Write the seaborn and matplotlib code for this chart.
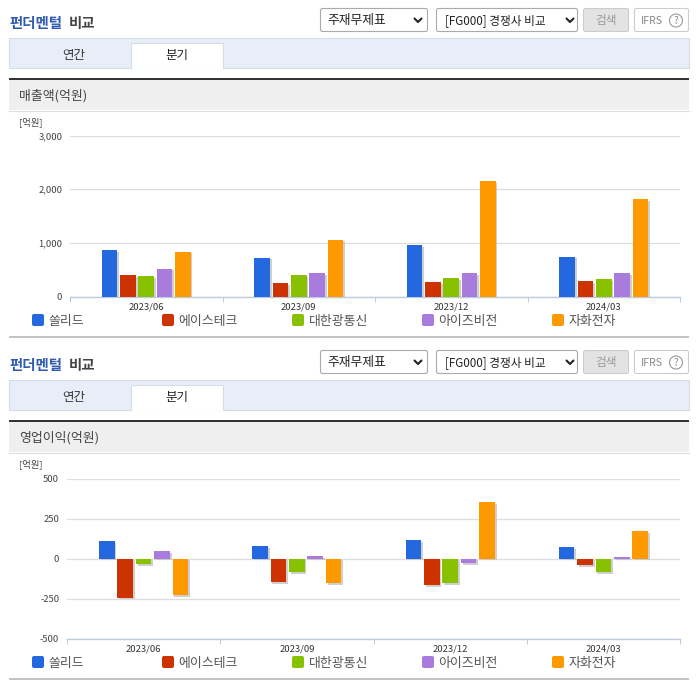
import pandas as pd
import seaborn as sns
import matplotlib.pyplot as plt
import matplotlib.patheffects as pe
from matplotlib.patches import Rectangle, FancyBboxPatch, Circle

# chart data
quarters = ['2023/06', '2023/09', '2023/12', '2024/03']
companies = ['쏠리드', '에이스테크', '대한광통신', '아이즈비전', '자화전자']
colors = ['#2368DF', '#CC3300', '#88C100', '#A87BDC', '#FF9900']

sales_solid = [860, 725, 960, 740]
sales_ace = [400, 250, 270, 290]
sales_daehan = [385, 400, 345, 325]
sales_eyes = [520, 440, 440, 440]
sales_jahwa = [835, 1060, 2150, 1815]

profit_solid = [108, 77, 114, 70]
profit_ace = [-244, -148, -167, -42]
profit_daehan = [-36, -86, -154, -86]
profit_eyes = [46, 14, -31, 8]
profit_jahwa = [-229, -154, 352, 171]

sales_ticks = [0, 1000, 2000, 3000]
sales_labels = ['0', '1,000', '2,000', '3,000']
profit_ticks = [-500, -250, 0, 250, 500]
profit_labels = ['-500', '-250', '0', '250', '500']

W, H = 696, 684
TEXT = '#555555'

sns.set_theme(style='white')
plt.rcParams['font.family'] = ['Noto Sans CJK KR', 'DejaVu Sans']


def make_frame(series):
    rows = []
    for name, values in zip(companies, series):
        for q, v in zip(quarters, values):
            rows.append({'quarter': q, 'company': name, 'value': v})
    return pd.DataFrame(rows)


def draw_chrome(bg, dy, section):
    """Page furniture around one chart, drawn in pixel coordinates"""
    bg.text(9.5, 24 + dy, '펀더멘털', color='#2F5BB0', fontsize=10.4, fontweight='bold', va='center')
    bg.text(69, 24 + dy, '비교', color='#444444', fontsize=10.4, fontweight='bold', va='center')

    # select boxes and buttons
    for x, w, fc, ec in [(320, 108, 'white', '#AAAAAA'), (436, 142, 'white', '#AAAAAA'),
                         (583, 46, '#e3e3e3', '#cccccc'), (634, 55, 'white', '#cccccc')]:
        bg.add_patch(FancyBboxPatch((x + 2.5, 10.5 + dy), w - 5, 19, boxstyle='round,pad=2',
                                    fc=fc, ec=ec, lw=0.8))
    bg.text(327.5, 20.5 + dy, '주재무제표', color='#222222', fontsize=9.2, va='center')
    bg.text(445, 20.5 + dy, '[FG000] 경쟁사 비교', color='#222222', fontsize=8.4, va='center')
    bg.text(606, 20.5 + dy, '검색', color='#999999', fontsize=8.4, ha='center', va='center')
    bg.text(641, 20.5 + dy, 'IFRS', color='#888888', fontsize=7.6, va='center')
    bg.add_patch(Circle((676, 20.5 + dy), 6.5, fc='white', ec='#999999', lw=0.8))
    bg.text(676, 20.5 + dy, '?', color='#888888', fontsize=7, ha='center', va='center')
    for x in [418, 570]:
        bg.plot([x - 3.5, x, x + 3.5], [18.5 + dy, 22 + dy, 18.5 + dy], color='#222222', lw=1.5)

    # tab bar
    bg.add_patch(Rectangle((9, 38 + dy), 679.5, 29.5, fc='#E8EEF8', ec='#D5DCE8', lw=0.8))
    bg.add_patch(Rectangle((131, 43 + dy), 91.5, 25, fc='white', ec='#D5DCE8', lw=0.8))
    bg.plot([131.5, 222], [68 + dy, 68 + dy], color='white', lw=1)
    bg.text(74, 55 + dy, '연간', color='#333333', fontsize=9, ha='center', va='center')
    bg.text(177, 55.5 + dy, '분기', color='#222222', fontsize=9, ha='center', va='center')

    # section band
    bg.add_patch(Rectangle((9, 80 + dy), 680, 30, fc='#EFEFEF', ec='none'))
    bg.add_patch(Rectangle((9, 78 + dy), 680, 2, fc='#333333', ec='none'))
    bg.plot([9, 689], [110.5 + dy, 110.5 + dy], color='#DDDDDD', lw=0.8)
    bg.text(19, 96 + dy, section, color='#444444', fontsize=9.3, va='center')
    bg.text(19, 122.5 + dy, '[억원]', color='#444444', fontsize=6.8, va='center')

    # legend row
    for i, (name, col) in enumerate(zip(companies, colors)):
        x = 32 + 130 * i
        bg.add_patch(FancyBboxPatch((x + 2, 316 + dy), 8, 8, boxstyle='round,pad=2',
                                    fc=col, ec='none'))
        bg.text(x + 16.5, 321 + dy, name, color=TEXT, fontsize=9.3, va='center')

    bg.add_patch(Rectangle((9, 336 + dy), 680, 2, fc='#C4C4C4', ec='none'))


def draw_chart(fig, box, series, ticks, labels):
    x0, y0, x1, y1 = box
    ax = fig.add_axes([x0 / W, 1 - y1 / H, (x1 - x0) / W, (y1 - y0) / H])
    ax.patch.set_alpha(0)
    sns.barplot(data=make_frame(series), x='quarter', y='value', hue='company',
                order=quarters, hue_order=companies, palette=colors,
                width=0.6, gap=0.15, saturation=1, linewidth=0, legend=False, ax=ax)
    for bar in ax.patches:
        bar.set_path_effects([pe.SimplePatchShadow(offset=(1.3, -1.2), shadow_rgbFace='#C4C4C4',
                                                   alpha=0.8), pe.Normal()])
        bar.set_zorder(3)

    ax.set_xlim(-0.5, 3.5)
    ax.set_ylim(ticks[0], ticks[-1])
    ax.set_yticks(ticks)
    ax.set_yticklabels(labels)
    ax.set_xlabel('')
    ax.set_ylabel('')
    ax.grid(axis='y', color='#DADDE2', lw=0.9)
    ax.set_axisbelow(True)
    sns.despine(ax=ax, left=True)
    ax.spines['bottom'].set_color('#BCCBDD')
    ax.spines['bottom'].set_linewidth(1)
    ax.set_xticks([-0.5, 0.5, 1.5, 2.5, 3.5], minor=True)
    ax.tick_params(axis='x', which='minor', length=3.5, width=0.7, color='#BCCBDD', bottom=True)
    ax.tick_params(axis='x', which='major', length=0, pad=4.2, labelsize=6.8, labelcolor='#333333')
    ax.tick_params(axis='y', length=0, pad=5.6, labelsize=6.8, labelcolor='#444444')
    return ax


def main():
    fig = plt.figure(figsize=(W / 100, H / 100), dpi=100, facecolor='white')

    bg = fig.add_axes([0, 0, 1, 1], zorder=-1)
    bg.set_xlim(0, W)
    bg.set_ylim(H, 0)
    bg.axis('off')

    draw_chrome(bg, 0, '매출액(억원)')
    draw_chrome(bg, 342, '영업이익(억원)')

    draw_chart(fig, (70, 135.5, 680, 296.5),
               [sales_solid, sales_ace, sales_daehan, sales_eyes, sales_jahwa],
               sales_ticks, sales_labels)
    draw_chart(fig, (67, 478.5, 680, 638.5),
               [profit_solid, profit_ace, profit_daehan, profit_eyes, profit_jahwa],
               profit_ticks, profit_labels)

    fig.savefig('out.png', dpi=100)
    plt.close(fig)


if __name__ == "__main__":
    main()
